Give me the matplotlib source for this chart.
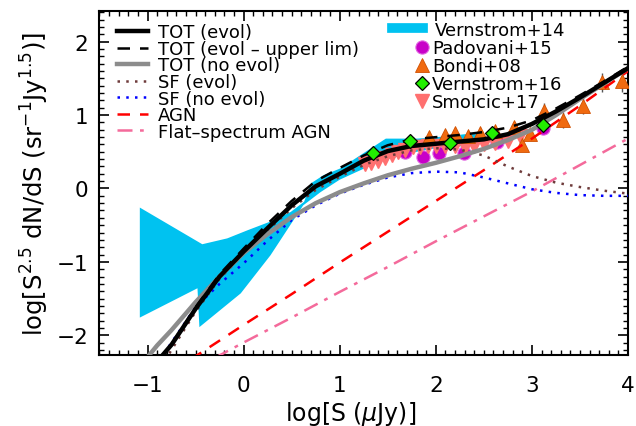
import matplotlib
matplotlib.use("Agg")
import matplotlib.pyplot as plt
from matplotlib.lines import Line2D
from matplotlib.ticker import MultipleLocator

plt.rcParams['font.family'] = ['DejaVu Sans']
plt.rcParams['mathtext.fontset'] = 'dejavusans'

# ---------------- data ----------------
tot_evol_x = [-0.9, -0.75, -0.5, -0.25, 0.0, 0.25, 0.5, 0.75, 1.0, 1.25, 1.5, 1.75,
              2.0, 2.25, 2.5, 2.75, 3.0, 3.25, 3.5, 3.75, 4.0]
tot_evol_y = [-2.36, -2.13, -1.64, -1.2, -0.86, -0.54, -0.23, 0.03, 0.2, 0.38, 0.51, 0.58,
              0.61, 0.64, 0.67, 0.74, 0.88, 1.05, 1.24, 1.44, 1.64]

tot_up_x = tot_evol_x
tot_up_y = [-2.36, -2.12, -1.62, -1.17, -0.82, -0.48, -0.17, 0.1, 0.28, 0.45, 0.59, 0.67,
            0.7, 0.73, 0.77, 0.83, 0.93, 1.09, 1.27, 1.46, 1.66]

tot_noev_x = [-1.05, -0.9, -0.75, -0.5, -0.25, 0.0, 0.25, 0.5, 0.75, 1.0, 1.25, 1.5, 1.75,
              2.0, 2.25, 2.5, 2.75, 3.0, 3.25, 3.5, 3.75, 4.0]
tot_noev_y = [-2.38, -2.14, -1.93, -1.55, -1.2, -0.88, -0.62, -0.39, -0.2, -0.05, 0.07, 0.18, 0.27,
              0.35, 0.44, 0.54, 0.66, 0.8, 1.0, 1.22, 1.43, 1.64]

sf_evol_x = [-0.82, -0.75, -0.5, -0.25, 0.0, 0.25, 0.5, 0.75, 1.0, 1.25, 1.5, 1.75,
             2.0, 2.25, 2.5, 2.75, 3.0, 3.25, 3.5, 3.75, 4.0]
sf_evol_y = [-2.35, -2.2, -1.68, -1.23, -0.89, -0.57, -0.27, -0.02, 0.16, 0.32, 0.44, 0.52,
             0.55, 0.53, 0.45, 0.3, 0.17, 0.08, 0.02, -0.03, -0.07]

sf_noev_x = [-0.88, -0.75, -0.5, -0.25, 0.0, 0.25, 0.5, 0.75, 1.0, 1.25, 1.5, 1.75,
             2.0, 2.25, 2.5, 2.75, 3.0, 3.25, 3.5, 3.75, 4.0]
sf_noev_y = [-2.35, -2.1, -1.62, -1.3, -1.02, -0.71, -0.43, -0.23, -0.07, 0.05, 0.15, 0.21,
             0.23, 0.22, 0.15, 0.07, -0.01, -0.06, -0.09, -0.1, -0.1]

agn_x = [-0.55, 0.0, 0.5, 1.0, 1.5, 2.0, 2.5, 3.0, 3.5, 4.0]
agn_y = [-2.33, -1.86, -1.44, -1.01, -0.59, -0.17, 0.25, 0.68, 1.13, 1.6]

flat_x = [-0.3, 0.0, 0.5, 1.0, 1.5, 2.0, 2.5, 3.0, 3.5, 4.0]
flat_y = [-2.31, -2.1, -1.76, -1.41, -1.07, -0.72, -0.38, -0.04, 0.32, 0.68]

# Vernstrom+14 band: upper edge (left->right) then lower edge (right->left)
vern14_x = [-1.08, -0.43, -0.17, 0.04, 0.28, 0.49, 0.63, 0.7, 0.83, 1.0, 1.48, 1.81, 2.1, 2.3, 2.45,
            2.45, 2.3, 2.0, 1.8, 1.5, 1.3, 1.0, 0.8, 0.62, 0.28, -0.03, -0.46, -0.48, -1.08]
vern14_y = [-0.26, -0.76, -0.68, -0.57, -0.45, -0.32, -0.18, 0.07, 0.18, 0.27, 0.68, 0.68, 0.71, 0.74, 0.74,
            0.6, 0.58, 0.55, 0.5, 0.4, 0.3, 0.12, -0.05, -0.23, -0.91, -1.43, -1.89, -1.36, -1.76]

pad15_x = [1.68, 1.87, 2.03, 2.29, 2.64, 3.12]
pad15_y = [0.5, 0.43, 0.49, 0.49, 0.64, 0.83]

bondi_x = [1.93, 2.1, 2.2, 2.33, 2.46, 2.62, 2.81, 2.9, 2.98, 3.13, 3.32, 3.53, 3.73, 3.94]
bondi_y = [0.7, 0.73, 0.76, 0.72, 0.76, 0.78, 0.84, 0.59, 0.74, 1.06, 0.93, 1.12, 1.45, 1.47]
bondi_err = [0.05, 0.05, 0.05, 0.05, 0.05, 0.06, 0.07, 0.07, 0.07, 0.1, 0.11, 0.11, 0.13, 0.15]

vern16_x = [1.35, 1.73, 2.15, 2.59, 3.12]
vern16_y = [0.49, 0.65, 0.62, 0.75, 0.87]

smol_x = [1.26, 1.33, 1.4, 1.47, 1.54, 1.61, 1.68, 1.76, 1.84, 1.92, 2.0, 2.1, 2.2, 2.3,
          2.4, 2.5, 2.62, 2.75, 2.88]
smol_y = [0.33, 0.35, 0.37, 0.41, 0.46, 0.5, 0.53, 0.56, 0.57, 0.58, 0.58, 0.58, 0.58, 0.57,
          0.58, 0.6, 0.62, 0.65, 0.72]

# ---------------- figure ----------------
fig = plt.figure(figsize=(6.36, 4.27), dpi=100)
ax = fig.add_axes([0.1564, 0.1663, 0.8310, 0.8056])

cyan = '#00C2F0'
ax.fill(vern14_x, vern14_y, color=cyan, lw=0, zorder=1)

ax.plot(pad15_x, pad15_y, 'o', ms=9.5, mfc='#C800C8', mec='#E060E0', mew=0.8, zorder=3)
ax.errorbar(bondi_x, bondi_y, yerr=bondi_err, fmt='^', ms=10.5, mfc='#F06A10', mec='#D05000',
            mew=0.6, ecolor='#555555', elinewidth=1.0, capsize=0, zorder=3)
ax.plot(smol_x, smol_y, 'v', ms=10, mfc='#FF7070', mec='#FF7070', zorder=3)

ax.plot(flat_x, flat_y, color='#F46A9B', lw=1.8, ls=(0, (6, 3, 1.5, 3)), zorder=4)
ax.plot(agn_x, agn_y, color='#FF0000', lw=1.8, ls=(0, (5, 4)), zorder=4)
ax.plot(sf_noev_x, sf_noev_y, color='#0000FF', lw=1.8, ls=(0, (1, 2.5)), zorder=4)
ax.plot(sf_evol_x, sf_evol_y, color='#6E3B3B', lw=1.8, ls=(0, (1, 2.5)), zorder=4)
ax.plot(tot_noev_x, tot_noev_y, color='#8C8C8C', lw=3.2, zorder=5)
ax.plot(tot_evol_x, tot_evol_y, color='black', lw=3.2, zorder=6)
ax.plot(tot_up_x, tot_up_y, color='black', lw=1.8, ls=(0, (5, 4)), zorder=6)

ax.plot(vern16_x, vern16_y, 'D', ms=7.5, mfc='#22EE00', mec='black', mew=0.9, zorder=7)

ax.set_xlim(-1.5, 4.0)
ax.set_ylim(-2.27, 2.42)
ax.xaxis.set_major_locator(MultipleLocator(1))
ax.xaxis.set_minor_locator(MultipleLocator(0.1))
ax.yaxis.set_major_locator(MultipleLocator(1))
ax.yaxis.set_minor_locator(MultipleLocator(0.1))
ax.tick_params(which='both', direction='in', top=True, right=True, labelsize=15.5)
ax.tick_params(which='major', length=7, width=1.2)
ax.tick_params(which='minor', length=3.6, width=1.0)
ax.tick_params(axis='x', pad=14.5)
ax.tick_params(axis='y', pad=8)
for s in ax.spines.values():
    s.set_linewidth(1.5)

ax.set_xlabel(r'log[S ($\mu$Jy)]', fontsize=17, labelpad=3)
ax.xaxis.label.set_x(0.476)
ax.set_ylabel(r'log[S$^{2.5}$ dN/dS (sr$^{-1}$Jy$^{1.5}$)]', fontsize=17.5, labelpad=4)

# ---------------- legends ----------------
left_handles = [
    Line2D([], [], color='black', lw=3.2),
    Line2D([], [], color='black', lw=1.8, ls=(0, (5, 4))),
    Line2D([], [], color='#8C8C8C', lw=3.2),
    Line2D([], [], color='#6E3B3B', lw=1.8, ls=(0, (1, 2.5))),
    Line2D([], [], color='#0000FF', lw=1.8, ls=(0, (1, 2.5))),
    Line2D([], [], color='#FF0000', lw=1.8, ls=(0, (5, 4))),
    Line2D([], [], color='#F46A9B', lw=1.8, ls=(0, (6, 3, 1.5, 3))),
]
left_labels = ['TOT (evol)', 'TOT (evol – upper lim)', 'TOT (no evol)', 'SF (evol)',
               'SF (no evol)', 'AGN', 'Flat–spectrum AGN']
leg1 = ax.legend(left_handles, left_labels, loc='upper left', bbox_to_anchor=(0.033, 0.964),
                 frameon=False, fontsize=13, borderpad=0, borderaxespad=0, handlelength=1.72,
                 handletextpad=0.55, labelspacing=-0.08)
ax.add_artist(leg1)

leg2 = ax.legend([Line2D([], [], color=cyan, lw=7)], ['Vernstrom+14'], loc='upper left',
                 bbox_to_anchor=(0.554, 0.972), frameon=False, fontsize=13, borderpad=0,
                 borderaxespad=0, handlelength=1.7, handletextpad=0.65)
ax.add_artist(leg2)

mk_handles = [
    Line2D([], [], ls='none', marker='o', ms=9.5, mfc='#C800C8', mec='#E060E0', mew=0.8),
    Line2D([], [], ls='none', marker='^', ms=10.5, mfc='#F06A10', mec='#D05000', mew=0.6),
    Line2D([], [], ls='none', marker='D', ms=7.5, mfc='#22EE00', mec='black', mew=0.9),
    Line2D([], [], ls='none', marker='v', ms=10, mfc='#FF7070', mec='#FF7070'),
]
ax.legend(mk_handles, ['Padovani+15', 'Bondi+08', 'Vernstrom+16', 'Smolcic+17'],
          loc='upper left', bbox_to_anchor=(0.594, 0.918), frameon=False, fontsize=13,
          borderpad=0, borderaxespad=0, handlelength=0.9, handletextpad=0.12,
          labelspacing=0.0, numpoints=1)

fig.savefig('out.png', dpi=100)
